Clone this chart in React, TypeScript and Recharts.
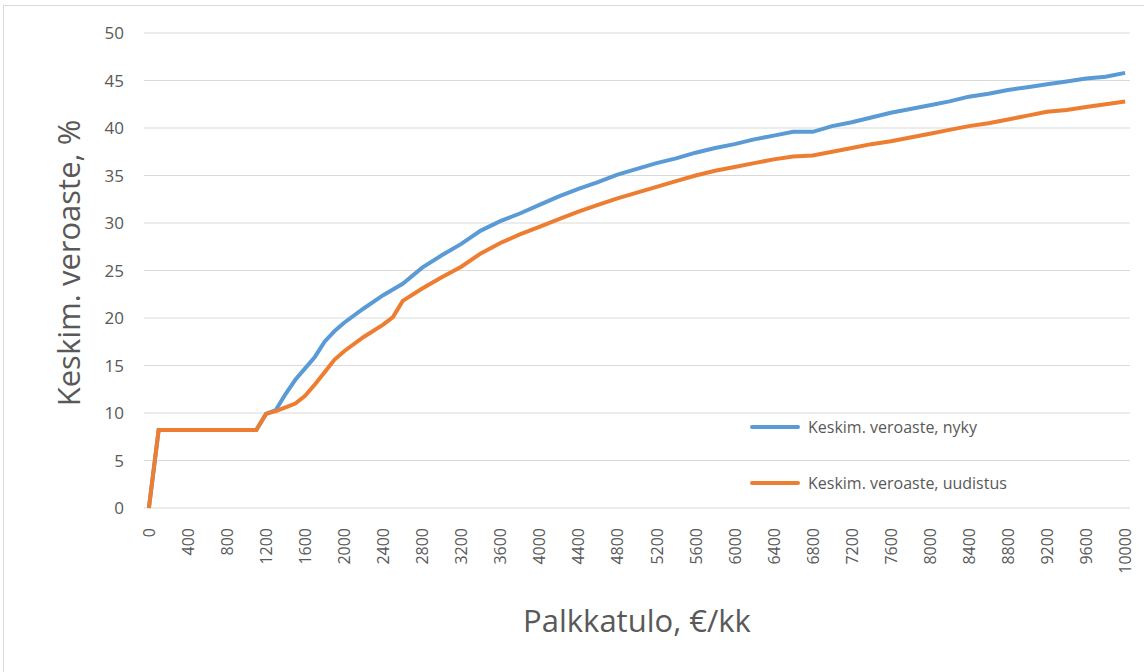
import { CartesianGrid, Label, Legend, Line, LineChart, XAxis, YAxis } from "recharts";

const incomes = [
  0, 100, 200, 300, 400, 500, 600, 700, 800, 900, 1000, 1100, 1200, 1300, 1400, 1500, 1600, 1700, 1800, 1900,
  2000, 2200, 2400, 2500, 2600, 2800, 3000, 3200, 3400, 3600, 3800, 4000, 4200, 4400, 4600, 4800, 5000,
  5200, 5400, 5600, 5800, 6000, 6200, 6400, 6600, 6800, 7000, 7200, 7400, 7600, 7800, 8000, 8200, 8400,
  8600, 8800, 9000, 9200, 9400, 9600, 9800, 10000,
];

const nyky = [
  0, 8.2, 8.2, 8.2, 8.2, 8.2, 8.2, 8.2, 8.2, 8.2, 8.2, 8.2, 9.9, 10.3, 12.0, 13.5, 14.7, 15.9, 17.5, 18.6,
  19.5, 21.0, 22.4, 23.0, 23.6, 25.3, 26.6, 27.8, 29.2, 30.2, 31.0, 31.9, 32.8, 33.6, 34.3, 35.1, 35.7,
  36.3, 36.8, 37.4, 37.9, 38.3, 38.8, 39.2, 39.6, 39.6, 40.2, 40.6, 41.1, 41.6, 42.0, 42.4, 42.8, 43.3,
  43.6, 44.0, 44.3, 44.6, 44.9, 45.2, 45.4, 45.8,
];

const uudistus = [
  0, 8.2, 8.2, 8.2, 8.2, 8.2, 8.2, 8.2, 8.2, 8.2, 8.2, 8.2, 9.9, 10.2, 10.6, 11.0, 11.8, 13.0, 14.3, 15.6,
  16.5, 18.0, 19.3, 20.1, 21.8, 23.1, 24.3, 25.4, 26.8, 27.9, 28.8, 29.6, 30.4, 31.2, 31.9, 32.6, 33.2,
  33.8, 34.4, 35.0, 35.5, 35.9, 36.3, 36.7, 37.0, 37.1, 37.5, 37.9, 38.3, 38.6, 39.0, 39.4, 39.8, 40.2,
  40.5, 40.9, 41.3, 41.7, 41.9, 42.2, 42.5, 42.8,
];

const xTicks = [
  0, 400, 800, 1200, 1600, 2000, 2400, 2800, 3200, 3600, 4000, 4400, 4800, 5200, 5600, 6000, 6400, 6800,
  7200, 7600, 8000, 8400, 8800, 9200, 9600, 10000,
];
const yTicks = [0, 5, 10, 15, 20, 25, 30, 35, 40, 45, 50];

const data = incomes.map((x, i) => ({ x, nyky: nyky[i], uudistus: uudistus[i] }));

const FONT = "'Open Sans', 'Noto Sans', sans-serif";
const TEXT = "#595959";

function XTick({ x, y, payload }: any) {
  return (
    <text
      x={0}
      y={0}
      transform={`translate(${x + 6},${y + 12}) rotate(-90)`}
      textAnchor="end"
      fill={TEXT}
      fontSize={16}
      fontFamily={FONT}
    >
      {payload.value}
    </text>
  );
}

function LegendBox({ payload }: any) {
  return (
    <div style={{ fontFamily: FONT }}>
      {payload.map((p: any) => (
        <div key={p.value} style={{ display: "flex", alignItems: "center", height: 56 }}>
          <span style={{ display: "inline-block", width: 50, height: 4, borderRadius: 2, background: p.color }} />
          <span style={{ marginLeft: 8, fontSize: 16, color: TEXT }}>{p.value}</span>
        </div>
      ))}
    </div>
  );
}

export default function App() {
  return (
    <div style={{ position: "absolute", left: 0, top: 0, width: 1144, height: 672, background: "#fff" }}>
      <div
        style={{
          position: "absolute",
          left: 3,
          top: 5,
          width: 1150,
          height: 680,
          border: "1px solid #d9d9d9",
          boxSizing: "border-box",
        }}
      />
      <LineChart
        width={1144}
        height={672}
        data={data}
        margin={{ top: 33, right: 14, bottom: 0, left: 0 }}
        style={{ position: "absolute", left: 0, top: 0 }}
      >
        <CartesianGrid vertical={false} stroke="#d9d9d9" strokeWidth={1.2} />
        <XAxis
          dataKey="x"
          type="number"
          domain={[-50, 10050]}
          ticks={xTicks}
          interval={0}
          height={164}
          axisLine={false}
          tickLine={false}
          tick={<XTick />}
        >
          <Label
            value="Palkkatulo, €/kk"
            position="insideBottom"
            offset={40}
            fill={TEXT}
            fontSize={31}
            fontFamily={FONT}
          />
        </XAxis>
        <YAxis
          type="number"
          domain={[0, 50]}
          ticks={yTicks}
          width={144}
          axisLine={false}
          tickLine={false}
          tickMargin={14}
          tick={{ fill: TEXT, fontSize: 17, fontFamily: FONT }}
        >
          <Label
            content={() => (
              <text
                x={0}
                y={0}
                transform="translate(80,263) rotate(-90)"
                textAnchor="middle"
                fill={TEXT}
                fontSize={31}
                fontFamily={FONT}
              >
                Keskim. veroaste, %
              </text>
            )}
          />
        </YAxis>
        <Legend
          layout="vertical"
          align="center"
          verticalAlign="middle"
          content={<LegendBox />}
          wrapperStyle={{ left: 750, top: 399, width: 380 }}
        />
        <Line
          dataKey="nyky"
          name="Keskim. veroaste, nyky"
          stroke="#5b9bd5"
          strokeWidth={4}
          dot={false}
          isAnimationActive={false}
        />
        <Line
          dataKey="uudistus"
          name="Keskim. veroaste, uudistus"
          stroke="#ed7d31"
          strokeWidth={4}
          dot={false}
          isAnimationActive={false}
        />
      </LineChart>
    </div>
  );
}
